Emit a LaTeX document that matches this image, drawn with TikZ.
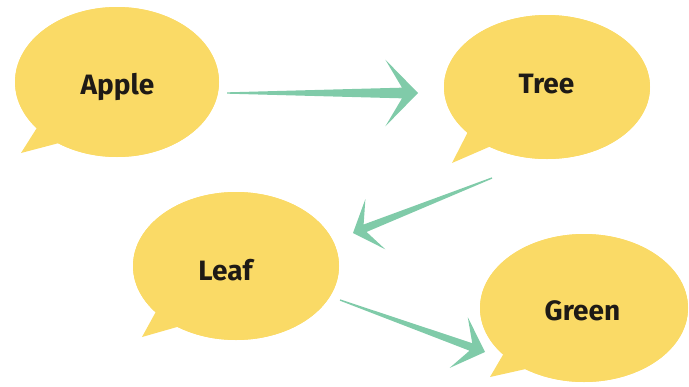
\documentclass[tikz,border=0pt]{standalone}
\usepackage{fontspec}
\setmainfont{Fira Sans}
\usetikzlibrary{shapes.geometric,calc}
\definecolor{bubble}{RGB}{250,218,102}
\definecolor{mint}{RGB}{128,203,169}
\definecolor{ink}{RGB}{30,26,22}
\newlength\pxu
\setlength\pxu{0.75pt}
\tikzset{
  bubblenode/.style={ellipse, fill=bubble, inner sep=0pt},
  bubbletail/.style={fill=bubble},
  wordnode/.style={font=\fontsize{21}{24}\selectfont\bfseries, text=ink, anchor=base, inner sep=0pt},
  arrowc/.style={fill=mint},
}
% #1 start, #2 tip, #3 head length, #4 notch distance, #5 head half-width, #6 shaft half-width
\newcommand\taparrow[6]{%
  \coordinate (hb) at ($(#2)!#3!(#1)$);
  \coordinate (hn) at ($(#2)!#4!(#1)$);
  \fill[arrowc] ($(#1)!0.5pt!90:(#2)$) -- ($(hn)!#6!90:(#2)$) -- ($(hb)!#5!90:(#2)$) -- (#2)
     -- ($(hb)!#5!-90:(#2)$) -- ($(hn)!#6!-90:(#2)$) -- ($(#1)!0.5pt!-90:(#2)$) -- cycle;
}
\begin{document}
\begin{tikzpicture}[x=0.75pt,y=-0.75pt]
\useasboundingbox (0,0) rectangle (689,386);
% bubbles
\node[bubblenode, minimum width=204\pxu, minimum height=150\pxu] (apple) at (117,82) {};
\node[bubblenode, minimum width=206\pxu, minimum height=144\pxu] (tree) at (547,87) {};
\node[bubblenode, minimum width=206\pxu, minimum height=148\pxu] (leaf) at (236,266) {};
\node[bubblenode, minimum width=208\pxu, minimum height=148\pxu] (green) at (584,308) {};
% tails
\coordinate (appletip) at (21,153);
\coordinate (treetip) at (452,163);
\coordinate (leaftip) at (142,337);
\coordinate (greentip) at (490,377);
\fill[bubbletail] (apple.210) -- (appletip) -- (apple.226) -- (apple.center) -- cycle;
\fill[bubbletail] (tree.210) -- (treetip) -- (tree.226) -- (tree.center) -- cycle;
\fill[bubbletail] (leaf.210) -- (leaftip) -- (leaf.226) -- (leaf.center) -- cycle;
\fill[bubbletail] (green.210) -- (greentip) -- (green.226) -- (green.center) -- cycle;
\node[bubblenode, minimum width=204\pxu, minimum height=150\pxu] at (apple.center) {};
\node[bubblenode, minimum width=206\pxu, minimum height=144\pxu] at (tree.center) {};
\node[bubblenode, minimum width=206\pxu, minimum height=148\pxu] at (leaf.center) {};
\node[bubblenode, minimum width=208\pxu, minimum height=148\pxu] at (green.center) {};
% words
\node[wordnode] (appletext) at (117.5,94) {Apple};
\node[wordnode] (treetext) at (546.5,93) {Tree};
\node[wordnode] (leaftext) at (225.5,280) {Leaf};
\node[wordnode] (greentext) at (582.5,320) {Green};
% arrows
\coordinate (a1s) at (227,93);
\coordinate (a1e) at (418,93);
\coordinate (a2s) at (492,178);
\coordinate (a2e) at (353,233);
\coordinate (a3s) at (340,300);
\coordinate (a3e) at (485,352);
\taparrow{a1s}{a1e}{24.5pt}{12pt}{25pt}{4pt}
\taparrow{a2s}{a2e}{18pt}{9.75pt}{20.25pt}{3pt}
\taparrow{a3s}{a3e}{21pt}{11.25pt}{20.25pt}{3pt}
\end{tikzpicture}
\end{document}
